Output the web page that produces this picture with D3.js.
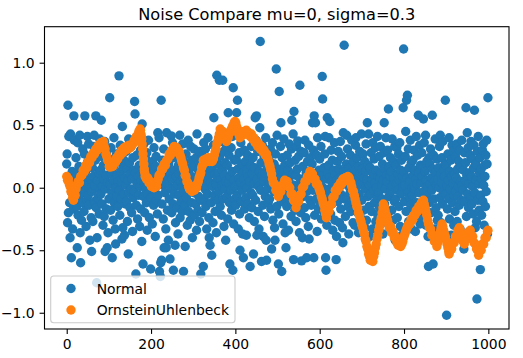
<!DOCTYPE html>
<html><head><meta charset="utf-8">
<script src="https://cdn.jsdelivr.net/npm/d3@7"></script>
<style>body{margin:0;background:#fff}svg{display:block;font-family:"DejaVu Sans",sans-serif}</style>
</head><body><svg id="c" width="523" height="358"></svg>
<script>
const chartTitle = "Noise Compare mu=0, sigma=0.3";
const seriesNames = ["Normal", "OrnsteinUhlenbeck"];
const seriesColors = ["#1f77b4", "#ff7f0e"];
const xTicks = [0, 200, 400, 600, 800, 1000];
const yTicks = [-1, -0.5, 0, 0.5, 1];

// Normal noise, index 0..999 (20 per row)
const normalValues = [
.19,.27,-.28,.66,-.20,.41,.05,-.12,-.40,.43, .02,-.56,-.04,.13,-.33,.09,-.17,.575,.38,-.01,
.11,-.07,.24,.03,-.15,-.48,.36,-.22,.06,.17, -.09,.42,-.36,-.60,.01,-.26,.14,-.04,.31,-.12,
.08,-.19,.27,.575,-.02,.13,-.31,.04,-.10,.41, .21,-.06,.35,-.14,.00,-.42,.18,.07,-.24,-.51,
-.03,.16,-.27,.09,.33,.42,-.11,.02,.22,.575, -.16,-.76,-.40,.06,-.08,.28,.12,-.21,.39,-.02,
.14,-.05,.54,.25,-.13,.01,-.30,.18,.07,-.23, .37,-.51,-.01,.10,-.17,.29,-.48,.04,-.36,.20,
-.09,.23,.72,.03,-.18,.32,.11,-.04,-.56,.16, -.26,.06,.40,-.12,.19,-.33,-.45,.00,.27,-.07,
.10,-.15,.05,.26,.895,-.02,-.22,.34,.13,-.09, .04,-.41,.49,-.32,.17,-.05,.22,-.38,.08,-.13,
.02,.29,-.11,.15,-.27,.06,-.53,.39,-.04,.20, -.16,.11,-.01,.33,-.20,.07,-.35,.24,-.08,.14,
-.03,.69,.59,.12,-.69,-.14,.26,.03,-.25,.41, .09,-.06,.18,-.31,.01,.30,-.17,.06,-.43,.51,
.16,-.61,-.07,.35,.04,-.20,.11,-.01,.23,-.12, .28,-.34,.07,-.05,.38,.13,-.24,.02,.19,-.65,
-.08,.14,.01,-.29,.21,.05,-.14,.32,-.02,.09, -.39,.17,.25,-.10,.03,-.21,.44,-.06,.12,.40,
-.67,.08,-.71,-.60,.70,-.58,-.13,.22,.02,-.25, .31,-.48,.10,-.04,.16,-.33,-.48,.44,.06,-.18,
.03,-.42,.19,-.09,.27,-.57,.12,-.01,.415,-.20, .07,.36,-.13,-.66,.24,-.05,.14,-.46,-.28,.01,
.09,-.16,.30,.02,-.37,.18,-.06,.11,.42,-.24, .05,-.11,.26,.00,-.19,.35,.08,-.67,-.03,.21,
-.14,-.47,.04,.27,-.08,.16,-.30,.01,.38,-.19, .12,.06,-.02,-.26,.33,.09,-.12,.22,-.40,.03,
.17,-.04,.31,-.22,.08,.01,-.13,.24,-.34,.43, .05,-.18,.14,-.07,.29,-.27,.02,.19,-.69,-.10,
.06,-.20,.25,.02,-.63,.36,-.09,.13,-.01,.31, -.15,.21,-.33,.07,-.05,.40,.10,-.24,-.40,.16,
-.46,.04,.22,-.12,-.54,.15,.01,-.28,.34,.56, -.06,.11,-.19,.27,.03,-.36,.90,.08,-.10,.19,
.12,-.03,.86,.25,-.15,.06,.37,-.22,.02,.14, .86,-.09,.29,-.31,.10,-.01,.20,-.42,.05,.33,
-.07,.18,-.25,.60,.04,.26,-.12,-.61,.09,-.02, .32,-.18,.13,.41,-.66,.80,-.29,.06,.22,-.09,
.01,-.14,.23,.60,-.06,.70,.15,-.33,.08,.28, -.21,-.50,.04,.36,-.11,.19,-.02,-.37,.12,-.56,
.07,.30,-.17,.02,.21,-.08,-.38,.14,.00,.26, -.13,.09,.43,-.24,.05,-.63,.18,-.04,.33,-.16,
.11,-.06,.24,-.53,.03,-.27,.16,.56,-.10,.38, .575,-.38,.07,.29,-.19,.01,-.33,.13,.48,1.17,
-.02,.20,-.59,.09,.34,-.14,-.39,.05,.25,-.23, .12,-.07,.40,-.42,-.58,.17,-.01,.28,-.12,.06,
.22,-.09,.04,.31,-.17,.13,-.49,.00,.36,-.26, .08,-.03,.19,-.32,-.42,.27,.10,.95,-.15,.42,
.03,.15,-.61,-.21,.77,.07,-.04,.33,.52,-.11, -.67,.24,.01,-.29,.12,.39,-.08,.18,-.36,.05,
-.48,.09,-.15,.26,-.02,.14,-.34,.06,.35,-.09, .20,.00,-.23,.31,.54,-.13,.11,.43,-.575,.61,
.02,-.18,.22,.10,-.27,.33,-.05,.15,.375,-.12, .25,-.01,-.36,.82,.07,-.20,.29,-.585,.04,-.40,
.17,-.07,.06,.28,-.16,.38,.01,-.24,.12,-.56, -.03,.21,.09,-.31,.34,-.41,.13,-.10,.24,.00,
-.14,.05,.19,.52,-.02,.30,-.56,.575,-.22,.11, .52,.03,-.09,.26,-.35,.40,.08,-.17,.14,-.04,
.23,-.12,.04,.33,-.25,.10,.89,.71,.00,-.19, .16,-.06,.27,.41,-.56,-.66,.07,-.30,.56,.12,
-.08,.18,.40,-.01,.53,.09,-.21,.30,.05,-.13, .22,-.34,.02,.14,-.07,.36,-.26,.11,-.03,-.575,
-.39,.06,.21,-.11,.29,-.02,.15,-.28,.08,.37, -.17,.02,.25,-.06,-.32,-.44,.44,.13,1.14,-.09,
.10,-.23,.03,.19,.42,-.08,.31,-.15,.07,-.37, .16,.00,-.04,.26,-.19,.12,.38,-.11,.05,-.28,
.21,-.02,.09,-.30,.14,.34,.40,-.12,.01,.24, -.20,.07,-.36,.17,-.05,.29,.11,-.24,.03,.43,
-.10,.15,.04,.27,-.18,.08,-.31,.21,-.01,.13, .35,-.26,.06,.52,-.07,.18,.43,-.15,.02,-.39,
.16,-.05,.28,-.19,.07,-.33,.36,.11,-.02,.23, -.12,.04,.32,-.27,.14,.00,-.08,.41,-.22,.09,
-.04,.25,-.16,.08,.33,-.29,.12,.02,-.09,.19, -.37,.06,.28,.52,-.13,.15,-.01,.40,-.23,.10,
.05,.30,-.20,.63,-.07,.17,-.34,.09,.24,-.03, .13,-.18,.39,.01,-.26,.21,.07,-.11,.33,-.42,
-.09,.18,.03,.32,-.24,.11,-.02,.27,-.15,.06, .36,-.31,.14,-.05,.22,-.38,.09,.01,.64,1.11,
.13,-.11,.02,.25,.45,-.19,.70,.08,.74,-.04, .31,-.27,.16,-.08,.05,.38,-.14,.20,-.33,.00,
-.06,.22,.10,-.17,.30,-.01,.14,-.35,.07,.41, -.12,.03,.26,-.22,.58,.12,-.04,.34,-.29,.18,
.04,-.15,.28,.09,-.24,.17,.55,-.03,.36,-.10, .13,.42,-.30,.06,.21,-.07,.01,-.39,-.63,.24,
-.12,.19,.03,.31,-.20,.08,-.02,.58,.15,-.61, .26,-.09,.05,-.33,.39,.12,-.16,.02,.23,-.26,
.07,-.22,.16,.00,.33,-.08,.42,.11,-.28,.04, .24,-.13,.37,-.03,.14,-.36,.09,.19,.70,-.05,
.18,-1.02,.02,-.17,.27,.06,-.09,.40,-.25,.13, -.01,.22,-.38,.09,.34,-.12,.04,.29,-.30,-.06,
.11,-.19,.25,-.03,.08,.35,-.27,.15,-.07,.01, .21,-.14,.30,-.33,.05,.17,-.10,.38,.02,-.42,
-.02,.14,-.49,.28,-.11,.06,.20,.64,-.23,.10, .44,-.05,.32,-.16,.03,-.35,.12,.26,-.08,.37,
.09,-.13,.23,.01,-.21,.16,.34,.62,-.04,-.32, .19,.06,-.27,-.89,.29,-.10,.41,.03,-.18,.12,
.24,-.655,-.06,.15,-.22,.07,.30,-.11,.35,.02, -.30,.18,.09,-.15,.26,-.03,.38,.19,-.37,.72
];

// Ornstein-Uhlenbeck path: [index, value]
const ouPoints = [
[0,.09],[2,.06],[4,.07],[6,.03],[8,.01],[10,-.03],[12,-.04],[14,-.08],[16,-.10],[18,-.07],[20,-.06],[22,-.01],[24,.02],[27,.05],[30,.04],[33,.09],[36,.10],[39,.14],[42,.13],[45,.18],[48,.16],[51,.21],[54,.20],[57,.25],[60,.24],[63,.28],[66,.27],[69,.31],[72,.30],[75,.34],[78,.32],[81,.36],[84,.34],[87,.37],[89,.33],[91,.31],[93,.27],[95,.25],[97,.22],[99,.21],
[101,.17],[103,.165],[106,.19],[109,.17],[112,.21],[115,.20],[118,.24],[121,.23],[124,.27],[127,.26],[130,.30],[133,.28],[136,.32],[139,.30],[142,.33],[145,.31],[148,.34],[151,.32],[154,.34],[157,.35],[160,.38],[163,.37],[165,.41],[168,.42],[171,.45],[174,.47],[175,.46],[176,.43],[177,.41],[178,.39],[179,.35],[180,.31],[181,.27],[182,.23],[183,.19],[184,.15],[185,.12],[186,.09],[189,.07],[192,.08],[195,.04],[198,.05],
[201,.01],[204,.03],[207,.00],[210,.03],[213,.01],[215,.05],[217,.07],[219,.10],[222,.11],[225,.15],[228,.15],[231,.19],[234,.18],[237,.22],[240,.23],[243,.27],[246,.26],[249,.30],[252,.30],[255,.33],[258,.30],[261,.32],[264,.28],[267,.29],[269,.26],[271,.24],[273,.21],[275,.19],[277,.16],[279,.14],[281,.10],[283,.09],[285,.05],[287,.04],[289,.01],[291,-.01],[294,.00],[297,-.03],
[300,.01],[303,-.02],[306,.01],[308,.00],[310,.03],[312,.05],[314,.08],[316,.10],[318,.12],[320,.16],[322,.18],[324,.22],[327,.20],[330,.23],[333,.21],[336,.24],[339,.21],[342,.23],[345,.21],[348,.23],[350,.26],[352,.29],[354,.31],[356,.35],[358,.37],[360,.40],[362,.43],[364,.47],[367,.44],[370,.45],[373,.41],[376,.41],[379,.37],[381,.39],[383,.40],[385,.43],[387,.44],[389,.46],[391,.47],[393,.49],[395,.50],[397,.52],[399,.53],
[401,.52],[403,.49],[405,.47],[407,.44],[409,.42],[411,.40],[414,.43],[417,.42],[420,.45],[423,.44],[426,.46],[429,.43],[432,.44],[435,.41],[438,.43],[441,.39],[444,.40],[447,.36],[450,.37],[453,.33],[456,.35],[459,.31],[462,.33],[465,.29],[468,.30],[471,.26],[474,.27],[476,.24],[478,.22],[480,.19],[482,.17],[484,.14],[486,.11],[488,.07],[490,.04],[493,.03],[496,-.02],[499,-.03],
[502,-.07],[505,-.04],[508,-.03],[511,.02],[514,.02],[517,.06],[520,.05],[523,.05],[526,.01],[529,.00],[532,-.05],[535,-.05],[538,-.10],[541,-.11],[544,-.16],[547,-.12],[550,-.11],[553,-.06],[556,-.05],[559,.00],[562,.01],[565,.05],[568,.05],[571,.09],[574,.09],[577,.13],[580,.12],[583,.11],[586,.07],[589,.07],[592,.03],[595,.03],[598,.00],
[600,-.02],[602,-.04],[604,-.07],[606,-.09],[608,-.12],[610,-.14],[612,-.18],[614,-.21],[616,-.24],[619,-.20],[622,-.19],[625,-.14],[628,-.13],[631,-.08],[634,-.07],[637,-.02],[640,-.03],[643,.01],[646,.00],[649,.04],[652,.03],[655,.07],[658,.05],[661,.08],[664,.06],[667,.09],[670,.08],[672,.05],[674,.04],[676,.01],[678,-.02],[680,-.03],[682,-.06],[684,-.09],[686,-.12],[688,-.15],[690,-.16],[692,-.20],[694,-.22],[696,-.25],[698,-.27],
[700,-.30],[702,-.32],[704,-.35],[706,-.37],[708,-.41],[710,-.43],[712,-.47],[714,-.49],[716,-.53],[718,-.55],[720,-.58],[723,-.56],[726,-.59],[728,-.55],[730,-.52],[732,-.48],[734,-.45],[736,-.41],[738,-.38],[740,-.34],[742,-.31],[744,-.27],[746,-.24],[748,-.20],[750,-.16],[751,-.13],[753,-.15],[755,-.18],[757,-.21],[759,-.23],[761,-.26],[763,-.29],[765,-.32],[768,-.31],[771,-.36],[774,-.35],[777,-.40],[780,-.39],[783,-.44],[786,-.46],[789,-.44],[792,-.47],[795,-.45],[797,-.43],[799,-.40],
[801,-.38],[803,-.36],[805,-.34],[807,-.32],[809,-.31],[811,-.29],[814,-.29],[817,-.25],[820,-.26],[823,-.22],[826,-.22],[829,-.18],[832,-.19],[835,-.15],[838,-.16],[841,-.12],[844,-.13],[846,-.10],[848,-.13],[850,-.16],[852,-.19],[854,-.22],[856,-.26],[858,-.29],[860,-.32],[863,-.33],[866,-.38],[869,-.38],[872,-.43],[875,-.43],[878,-.47],[880,-.44],[882,-.41],[884,-.38],[886,-.35],[888,-.32],[890,-.29],[892,-.31],[894,-.34],[896,-.37],[898,-.39],
[900,-.42],[902,-.45],[904,-.48],[906,-.51],[907,-.53],[910,-.50],[913,-.49],[916,-.44],[919,-.44],[922,-.39],[925,-.39],[928,-.34],[931,-.32],[933,-.34],[935,-.37],[937,-.39],[939,-.42],[941,-.43],[943,-.45],[946,-.41],[949,-.41],[952,-.36],[955,-.36],[957,-.34],[960,-.38],[963,-.39],[966,-.44],[969,-.45],[972,-.49],[975,-.50],[977,-.54],[980,-.50],[983,-.50],[986,-.45],[989,-.45],[992,-.40],[995,-.40],[998,-.35],[999,-.34]
];

const svg = d3.select("#c");
const L = 44.5, R = 509, T = 26.7, B = 329;
const x = d3.scaleLinear().domain([-52.7, 1049]).range([L, R]);
const y = d3.scaleLinear().domain([-1.130, 1.288]).range([B, T]);
const rad = 4.7;
const fs = 13.9;

svg.append("defs").append("clipPath").attr("id","pc").append("rect")
  .attr("x", L).attr("y", T).attr("width", R - L).attr("height", B - T);
const plot = svg.append("g").attr("clip-path","url(#pc)");

plot.append("g").selectAll("circle").data(normalValues).join("circle")
  .attr("cx", (d, i) => x(i)).attr("cy", d => y(d)).attr("r", rad).attr("fill", seriesColors[0]);
plot.append("g").selectAll("circle").data(ouPoints).join("circle")
  .attr("cx", d => x(d[0])).attr("cy", d => y(d[1])).attr("r", rad).attr("fill", seriesColors[1]);

const fmtY = d => (d < 0 ? "\u2212" : "") + Math.abs(d).toFixed(1);
const yAxis = svg.append("g").attr("transform", `translate(${L},0)`)
  .call(d3.axisLeft(y).tickValues(yTicks).tickFormat(fmtY).tickSize(4.9).tickPadding(4.9).tickSizeOuter(0));
const xAxis = svg.append("g").attr("transform", `translate(0,${B})`)
  .call(d3.axisBottom(x).tickValues(xTicks).tickFormat(d3.format("d")).tickSize(4.9).tickPadding(4.9).tickSizeOuter(0));
[yAxis, xAxis].forEach(a => {
  a.select(".domain").remove();
  a.selectAll(".tick line").attr("stroke", "#000").attr("stroke-width", 1.1);
  a.selectAll(".tick text").attr("fill", "#000").style("font-size", fs + "px").style("font-family", '"DejaVu Sans",sans-serif');
});

svg.append("rect").attr("x", L).attr("y", T).attr("width", R - L).attr("height", B - T)
  .attr("fill", "none").attr("stroke", "#000").attr("stroke-width", 1.1);

svg.append("text").attr("x", (L + R) / 2).attr("y", 19.5).attr("text-anchor", "middle")
  .style("font-size", "16.2px").attr("fill", "#000").text(chartTitle);

const lg = svg.append("g");
lg.append("rect").attr("x", 50.7).attr("y", 276).attr("width", 184.3).attr("height", 46.7).attr("rx", 3)
  .attr("fill", "#fff").attr("fill-opacity", 0.8).attr("stroke", "#cccccc").attr("stroke-width", 1.1);
seriesNames.forEach((n, k) => {
  const cy = 288.5 + k * 21.5;
  lg.append("circle").attr("cx", 71).attr("cy", cy).attr("r", rad).attr("fill", seriesColors[k]);
  lg.append("text").attr("x", 96.7).attr("y", cy + 5).style("font-size", fs + "px").attr("fill", "#000").text(n);
});
</script>
</body></html>
